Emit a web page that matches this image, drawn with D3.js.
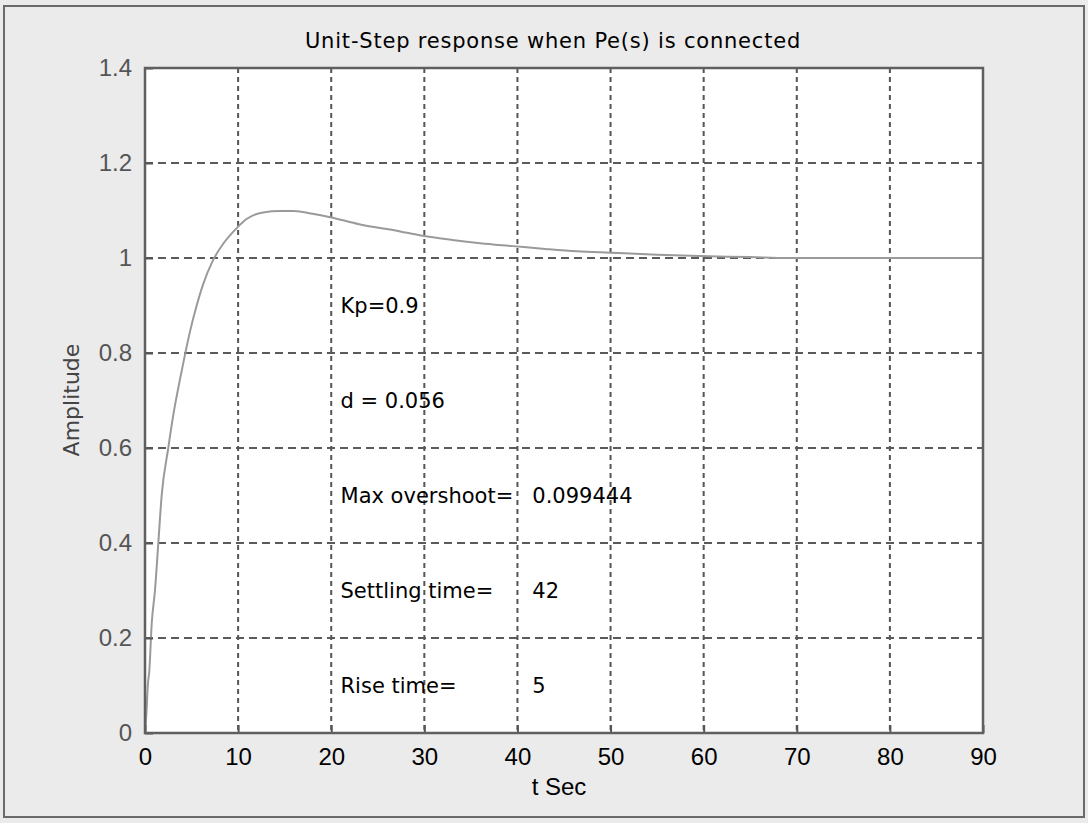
<!DOCTYPE html>
<html>
<head>
<meta charset="utf-8">
<title>Unit-Step response</title>
<script src="https://cdn.jsdelivr.net/npm/d3@7"></script>
<style>
    body { margin: 0; background: #ebebeb; }
    svg { display: block; font-family: "DejaVu Sans", sans-serif; }
</style>
</head>
<body>
<div id="graph"></div>
<script>
"use strict";

// step response
const timeSec = [0, 0.15, 0.3, 0.46, 0.72, 1.07, 1.43, 1.79, 2.5, 3.0, 3.76, 4.3, 4.83, 5.55, 6.23, 7.3,
    8.4, 9.85, 10.9, 12.7, 14.5, 16, 18, 19.9, 23, 27.4, 29.5, 33, 36, 39.5, 43, 46.4, 50, 55, 59.6, 65, 69, 80, 90];
const amplitude = [0, 0.04, 0.1, 0.13, 0.23, 0.3, 0.4, 0.5, 0.6, 0.665, 0.745, 0.797, 0.845, 0.9, 0.944, 0.995,
    1.03, 1.063, 1.082, 1.096, 1.099, 1.099, 1.093, 1.086, 1.071, 1.056, 1.048, 1.038, 1.031, 1.025, 1.019, 1.014,
    1.011, 1.007, 1.004, 1.002, 1.0, 1.0, 1.0];

const xTicks = [0, 10, 20, 30, 40, 50, 60, 70, 80, 90];
const yTicks = [0, 0.2, 0.4, 0.6, 0.8, 1, 1.2, 1.4];

// text boxes placed in data units
const noteLabels = ["Kp=0.9", "d = 0.056", "Max overshoot=", "Settling time=", "Rise time="];
const noteValues = ["", "", "0.099444", "42", "5"];
const noteY = [0.9, 0.7, 0.5, 0.3, 0.1];

const titleText = "Unit-Step response when Pe(s) is connected";
const xLabel = "t Sec";
const yLabel = "Amplitude";

(function() {
    const svgSize = {
        width : 1088,
        height: 823,
    };
    const plot = { left: 145, right: 983, top: 68, bottom: 733 };
    const tickFont = "Liberation Sans, Arial, sans-serif";

    window.addEventListener("load", init);

    function init() {
        let svg = d3.select("#graph")
                    .append("svg")
                        .attr("width", svgSize.width)
                        .attr("height", svgSize.height);

        // outer figure frame
        svg.append("rect")
            .attr("x", 4).attr("y", 6)
            .attr("width", 1080).attr("height", 811)
            .attr("fill", "#ebebeb")
            .attr("stroke", "#6a6a6a")
            .attr("stroke-width", 2);

        let x = d3.scaleLinear().domain([0, 90]).range([plot.left, plot.right]);
        let y = d3.scaleLinear().domain([0, 1.4]).range([plot.bottom, plot.top]);

        svg.append("rect")
            .attr("x", plot.left).attr("y", plot.top)
            .attr("width", plot.right - plot.left)
            .attr("height", plot.bottom - plot.top)
            .attr("fill", "#fff");

        // grid
        svg.append("g")
            .selectAll("line")
            .data(xTicks.slice(1, -1))
            .enter()
            .append("line")
                .attr("x1", d => x(d)).attr("x2", d => x(d))
                .attr("y1", plot.top).attr("y2", plot.bottom)
                .attr("stroke", "#555")
                .attr("stroke-width", 2)
                .attr("stroke-dasharray", "5,4");

        svg.append("g")
            .selectAll("line")
            .data(yTicks.slice(1, -1))
            .enter()
            .append("line")
                .attr("x1", plot.left).attr("x2", plot.right)
                .attr("y1", d => y(d)).attr("y2", d => y(d))
                .attr("stroke", "#5a5a5a")
                .attr("stroke-width", 2)
                .attr("stroke-dasharray", "8,5");

        // response curve
        let pts = timeSec.map((t, i) => [t, amplitude[i]]);
        svg.append("path")
            .datum(pts)
            .attr("fill", "none")
            .attr("stroke", "#9a9a9a")
            .attr("stroke-width", 2)
            .attr("d", d3.line().x(d => x(d[0])).y(d => y(d[1])).curve(d3.curveMonotoneX));

        // axes box and inner ticks
        let xAxis = svg.append("g")
            .attr("transform", "translate(0," + plot.bottom + ")")
            .call(d3.axisBottom(x).tickValues(xTicks).tickSizeInner(-8).tickSizeOuter(0).tickPadding(15));
        xAxis.select(".domain").remove();
        xAxis.selectAll("line").attr("stroke", "#555").attr("stroke-width", 2);
        xAxis.selectAll("text")
            .attr("font-size", 24)
            .attr("font-family", tickFont)
            .attr("fill", "#000");

        let yAxis = svg.append("g")
            .attr("transform", "translate(" + plot.left + ",0)")
            .call(d3.axisLeft(y).tickValues(yTicks).tickSizeInner(-8).tickSizeOuter(0).tickPadding(13)
                .tickFormat(d3.format("")));
        yAxis.select(".domain").remove();
        yAxis.selectAll("line").attr("stroke", "#555").attr("stroke-width", 2);
        yAxis.selectAll("text")
            .attr("font-size", 24)
            .attr("font-family", tickFont)
            .attr("fill", "#555");

        svg.append("rect")
            .attr("x", plot.left).attr("y", plot.top)
            .attr("width", plot.right - plot.left)
            .attr("height", plot.bottom - plot.top)
            .attr("fill", "none")
            .attr("stroke", "#5f5f5f")
            .attr("stroke-width", 2.5);

        // annotations
        let notes = svg.append("g")
            .attr("font-size", 21)
            .attr("fill", "#000");
        notes.selectAll("text.lbl")
            .data(noteLabels)
            .enter()
            .append("text")
                .attr("class", "lbl")
                .attr("x", x(21))
                .attr("y", (d, i) => y(noteY[i]))
                .attr("dominant-baseline", "central")
                .text(d => d);
        notes.selectAll("text.val")
            .data(noteValues)
            .enter()
            .append("text")
                .attr("class", "val")
                .attr("x", x(41.6))
                .attr("y", (d, i) => y(noteY[i]))
                .attr("dominant-baseline", "central")
                .text(d => d);

        // title and axis labels
        svg.append("text")
            .attr("x", 553).attr("y", 48)
            .attr("text-anchor", "middle")
            .attr("font-size", 21)
            .attr("letter-spacing", 0.8)
            .attr("fill", "#000")
            .text(titleText);

        svg.append("text")
            .attr("x", 559).attr("y", 795)
            .attr("text-anchor", "middle")
            .attr("font-size", 24)
            .attr("font-family", tickFont)
            .attr("fill", "#000")
            .text(xLabel);

        svg.append("text")
            .attr("transform", "translate(79,400) rotate(-90)")
            .attr("text-anchor", "middle")
            .attr("font-size", 22)
            .attr("fill", "#444")
            .text(yLabel);
    }
})();
</script>
</body>
</html>
